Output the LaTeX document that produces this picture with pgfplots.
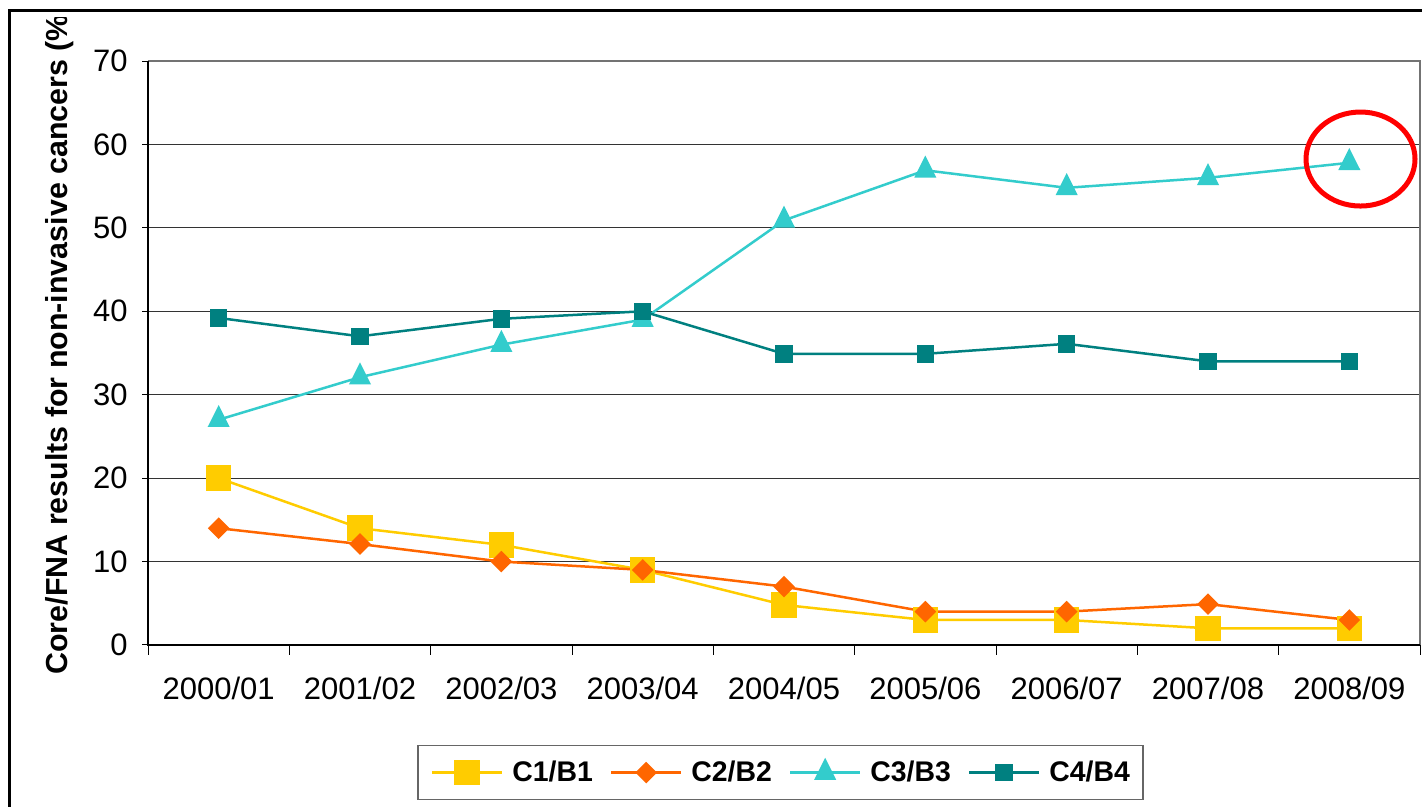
\documentclass[border=0pt]{standalone}
\usepackage{fontspec}
\setmainfont{Liberation Sans}
\usepackage{pgfplots}
\pgfplotsset{compat=1.18}
\definecolor{cy}{HTML}{FFCC00}
\definecolor{co}{HTML}{FF6600}
\definecolor{cc}{HTML}{33CCCC}
\definecolor{ct}{HTML}{008080}
\begin{document}
\begin{tikzpicture}[x=0.5pt,y=0.5pt]
\useasboundingbox (0,0) rectangle (1422,807);
\fill[white] (0,0) rectangle (1422,807);
\begin{scope}
\clip (0,0) rectangle (1422,789);
\node[rotate=90, anchor=base west, font=\fontsize{15.2}{18}\selectfont\bfseries, inner sep=0pt] at (67,132) {Core/FNA results for non-invasive cancers (\%)};
\end{scope}
\draw[black, line width=1.5pt] (9,0) -- (9,796) -- (1422,796);
\begin{axis}[
  at={(74pt,81pt)}, anchor=south west, scale only axis,
  width=636pt, height=292pt,
  xmin=-0.5, xmax=8.5, ymin=0, ymax=70,
  clip=false,
  axis line style={draw=none},
  ytick={0,10,...,70},
  ymajorgrids, grid style={black!80, line width=0.5pt},
  tick align=outside, major tick length=3pt,
  xtick pos=lower, ytick pos=left,
  ytick style={black, line width=0.5pt},
  /pgf/number format/assume math mode=true,
  yticklabel style={font=\fontsize{15.5}{18}\selectfont, anchor=east, inner sep=0pt, xshift=-7pt},
  xtick={0,...,8},
  xticklabels={2000/01,2001/02,2002/03,2003/04,2004/05,2005/06,2006/07,2007/08,2008/09},
  xtick style={draw=none},
  xticklabel style={font=\fontsize{15.5}{18}\selectfont, anchor=base, inner sep=0pt, yshift=-24.5pt},
  extra x ticks={-0.5,0.5,...,8.5},
  extra x tick labels={},
  extra x tick style={xtick style={draw=black, line width=0.5pt}, major tick length=5pt, grid=none},
  legend columns=4,
  legend style={at={(0.4972,-0.2183)}, anchor=center, draw=black!60, line width=0.75pt,
    font=\fontsize{14.2}{17}\selectfont\bfseries,
    inner xsep=6.5pt, inner ysep=7.5pt,
    nodes={inner sep=0pt},
    /tikz/every odd column/.append style={column sep=4.5pt},
    /tikz/every even column/.append style={column sep=8.5pt}},
  legend image code/.code={\draw[mark repeat=2, mark phase=2] plot coordinates {(0pt,0pt) (17.5pt,0pt) (35pt,0pt)};},
]
\draw[black!55, line width=0.75pt] (axis cs:-0.5,70) -- (axis cs:8.5,70) -- (axis cs:8.5,0);
\draw[black, line width=0.75pt] (axis cs:-0.5,70) -- (axis cs:-0.5,0) -- (axis cs:8.5,0);
\addplot[cy, line width=1.25pt, mark=square*, mark size=5.75pt]
  coordinates {(0,20)(1,14)(2,12)(3,9)(4,4.8)(5,3)(6,3)(7,2)(8,2)};
\addlegendentry{C1/B1}
\addplot[co, line width=1.25pt, mark=square*, mark size=3.2pt, mark options={rotate=45}]
  coordinates {(0,14)(1,12.1)(2,10)(3,9)(4,7)(5,4)(6,4)(7,4.9)(8,3)};
\addlegendentry{C2/B2}
\addplot[cc, line width=1.25pt, mark=triangle*, mark size=5.2pt, mark options={yscale=1.15}]
  coordinates {(0,27)(1,32.1)(2,36)(3,39)(4,50.9)(5,56.9)(6,54.8)(7,56)(8,57.8)};
\addlegendentry{C3/B3}
\addplot[ct, line width=1.25pt, mark=square*, mark size=3.75pt]
  coordinates {(0,39.2)(1,37)(2,39.1)(3,40)(4,34.9)(5,34.9)(6,36.1)(7,34)(8,34)};
\addlegendentry{C4/B4}
\draw[red, line width=2.5pt] (axis cs:8.079,58.25) ellipse [x radius=27.25pt, y radius=23.5pt];
\end{axis}
\end{tikzpicture}
\end{document}
